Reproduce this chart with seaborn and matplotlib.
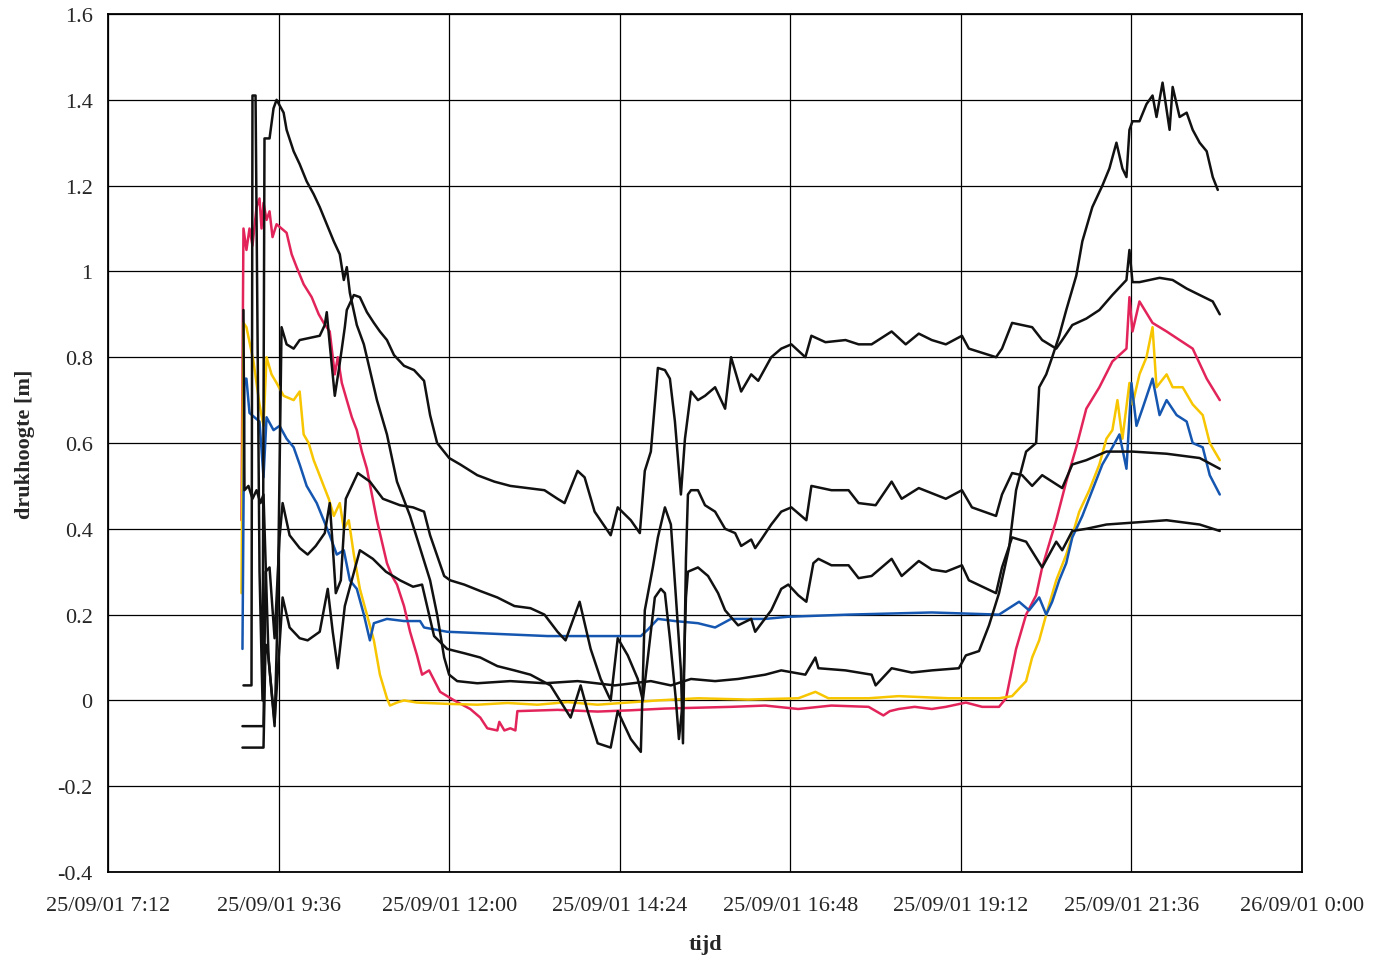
import pandas as pd
import numpy as np
import matplotlib
matplotlib.use('Agg')
import matplotlib.pyplot as plt
import seaborn as sns

# tijd in decimale uren op 25/09/01, drukhoogte in m
red_t = [9.078, 9.106, 9.148, 9.191, 9.233, 9.29, 9.332, 9.36, 9.388, 9.431, 9.473, 9.515, 9.572, 9.642,
         9.713, 9.784, 9.854, 9.953, 10.066, 10.165, 10.235, 10.32, 10.391, 10.433, 10.49, 10.56, 10.631,
         10.701, 10.772, 10.843, 10.913, 10.984, 11.054, 11.125, 11.196, 11.266, 11.365, 11.45, 11.548,
         11.619, 11.718, 11.873, 12.071, 12.297, 12.438, 12.537, 12.678, 12.706, 12.777, 12.861, 12.932,
         12.96, 13.525, 14.09, 14.556, 15.036, 15.967, 16.447, 16.913, 17.379, 17.902, 18.11, 18.2, 18.325,
         18.55, 18.791, 18.989, 19.271, 19.5, 19.737, 19.836, 19.977, 20.118, 20.259, 20.344, 20.542, 20.683,
         20.824, 20.965, 21.149, 21.332, 21.53, 21.572, 21.615, 21.713, 21.897, 22.095, 22.278, 22.462,
         22.659, 22.843]
red_v = [0.42, 1.10, 1.05, 1.10, 1.06, 1.15, 1.17, 1.10, 1.16, 1.12, 1.14, 1.08, 1.11, 1.10,
         1.09, 1.04, 1.01, 0.97, 0.94, 0.90, 0.88, 0.86, 0.76, 0.80, 0.74, 0.70, 0.66,
         0.63, 0.58, 0.54, 0.48, 0.42, 0.37, 0.32, 0.29, 0.27, 0.22, 0.16, 0.105,
         0.06, 0.07, 0.02, 0.0, -0.02, -0.04, -0.065, -0.07, -0.05, -0.07, -0.065, -0.07,
         -0.025, -0.022, -0.026, -0.023, -0.019, -0.015, -0.012, -0.02, -0.012, -0.015, -0.035, -0.025, -0.02,
         -0.015, -0.02, -0.015, -0.005, -0.015, -0.015, 0.005, 0.12, 0.2, 0.245, 0.31, 0.42, 0.51,
         0.59, 0.68, 0.73, 0.79, 0.82, 0.94, 0.86, 0.93, 0.88, 0.86, 0.84, 0.82,
         0.75, 0.70]

yellow_t = [9.078, 9.106, 9.148, 9.247, 9.332, 9.388, 9.431, 9.501, 9.572, 9.671, 9.812, 9.897, 9.953,
            10.023, 10.094, 10.165, 10.235, 10.306, 10.377, 10.461, 10.518, 10.588, 10.659, 10.744, 10.843,
            10.941, 11.026, 11.125, 11.167, 11.266, 11.365, 11.548, 11.972, 12.396, 12.819, 13.243, 13.666,
            14.09, 14.513, 14.937, 15.501, 16.207, 16.913, 17.153, 17.337, 17.902, 18.325, 19.031, 19.737,
            19.921, 20.118, 20.203, 20.302, 20.401, 20.542, 20.683, 20.768, 20.866, 21.007, 21.149, 21.248,
            21.332, 21.403, 21.473, 21.572, 21.615, 21.713, 21.812, 21.897, 21.953, 22.095, 22.18, 22.321,
            22.462, 22.603, 22.702, 22.843]
yellow_v = [0.25, 0.88, 0.87, 0.79, 0.69, 0.64, 0.80, 0.76, 0.74, 0.71, 0.70, 0.72, 0.62,
            0.60, 0.56, 0.53, 0.50, 0.47, 0.43, 0.46, 0.40, 0.42, 0.34, 0.26, 0.20,
            0.14, 0.06, 0.005, -0.012, -0.005, 0.0, -0.005, -0.008, -0.01, -0.006, -0.01, -0.004,
            -0.01, -0.005, 0.0, 0.005, 0.002, 0.005, 0.02, 0.005, 0.005, 0.01, 0.005, 0.005,
            0.01, 0.045, 0.10, 0.14, 0.20, 0.28, 0.34, 0.385, 0.44, 0.49, 0.55, 0.61,
            0.63, 0.70, 0.61, 0.74, 0.69, 0.76, 0.80, 0.87, 0.73, 0.76, 0.73, 0.73,
            0.69, 0.665, 0.60, 0.56]

blue_t = [9.092, 9.12, 9.148, 9.191, 9.261, 9.332, 9.388, 9.431, 9.529, 9.614, 9.713, 9.812, 9.897,
          9.995, 10.137, 10.235, 10.32, 10.419, 10.518, 10.603, 10.701, 10.8, 10.885, 10.941, 11.125,
          11.365, 11.591, 11.647, 11.972, 12.678, 13.384, 14.09, 14.697, 14.796, 14.937, 15.177, 15.501,
          15.742, 15.967, 16.447, 16.772, 17.62, 18.791, 19.737, 20.019, 20.16, 20.302, 20.401, 20.485,
          20.584, 20.683, 20.768, 20.909, 21.05, 21.191, 21.332, 21.431, 21.53, 21.6, 21.671, 21.755,
          21.897, 21.996, 22.095, 22.236, 22.377, 22.462, 22.603, 22.702, 22.843]
blue_v = [0.12, 0.75, 0.75, 0.67, 0.66, 0.65, 0.52, 0.66, 0.63, 0.64, 0.61, 0.59, 0.55,
          0.50, 0.46, 0.42, 0.385, 0.34, 0.35, 0.28, 0.26, 0.20, 0.14, 0.18, 0.19,
          0.185, 0.185, 0.17, 0.16, 0.155, 0.15, 0.15, 0.15, 0.165, 0.19, 0.185, 0.18,
          0.17, 0.19, 0.19, 0.195, 0.20, 0.205, 0.20, 0.23, 0.21, 0.24, 0.20, 0.23,
          0.28, 0.32, 0.38, 0.43, 0.49, 0.55, 0.59, 0.62, 0.54, 0.74, 0.64, 0.68,
          0.75, 0.665, 0.70, 0.665, 0.65, 0.60, 0.59, 0.525, 0.48]

k1_t = [9.106, 9.12, 9.176, 9.233, 9.29, 9.346, 9.388, 9.459, 9.544, 9.586, 9.642, 9.713, 9.812, 9.897,
        10.038, 10.179, 10.25, 10.278, 10.32, 10.391, 10.447, 10.49, 10.532, 10.56, 10.659, 10.744, 10.843,
        10.941, 11.026, 11.125, 11.224, 11.365, 11.506, 11.647, 11.732, 11.831, 12.0, 12.156, 12.396,
        12.636, 12.861, 13.101, 13.341, 13.525, 13.624, 13.807, 13.906, 14.047, 14.273, 14.372, 14.556,
        14.683, 14.753, 14.838, 14.937, 15.036, 15.106, 15.177, 15.261, 15.318, 15.403, 15.501, 15.6,
        15.742, 15.883, 15.967, 16.109, 16.25, 16.349, 16.532, 16.673, 16.815, 17.012, 17.097, 17.295,
        17.577, 17.761, 17.944, 18.226, 18.424, 18.608, 18.791, 18.989, 19.215, 19.313, 19.695, 19.779,
        19.921, 20.203, 20.344, 20.542, 20.626, 20.768, 20.965, 21.149, 21.332, 21.53, 21.572, 21.615,
        21.713, 21.996, 22.18, 22.377, 22.56, 22.744, 22.843]
k1_v = [0.91, 0.49, 0.50, 0.47, 0.49, 0.46, 0.48, 0.10, -0.06, 0.20, 0.87, 0.83, 0.82, 0.84,
        0.845, 0.85, 0.875, 0.905, 0.83, 0.71, 0.77, 0.82, 0.87, 0.91, 0.945, 0.94, 0.905,
        0.88, 0.86, 0.84, 0.805, 0.78, 0.77, 0.745, 0.665, 0.60, 0.565, 0.55, 0.525,
        0.51, 0.50, 0.495, 0.49, 0.47, 0.46, 0.535, 0.52, 0.44, 0.385, 0.45, 0.42,
        0.39, 0.535, 0.58, 0.775, 0.77, 0.75, 0.65, 0.48, 0.61, 0.72, 0.70, 0.71,
        0.73, 0.68, 0.80, 0.72, 0.76, 0.745, 0.80, 0.82, 0.83, 0.80, 0.85, 0.835,
        0.84, 0.83, 0.83, 0.86, 0.83, 0.855, 0.84, 0.83, 0.85, 0.82, 0.80, 0.82,
        0.88, 0.87, 0.84, 0.82, 0.84, 0.875, 0.89, 0.91, 0.945, 0.98, 1.05, 0.975,
        0.975, 0.985, 0.98, 0.96, 0.945, 0.93, 0.90]

k2_t = [9.092, 9.388, 9.417, 9.445, 9.544, 9.614, 9.657, 9.755, 9.897, 10.009, 10.179, 10.292, 10.362,
        10.433, 10.532, 10.744, 10.927, 11.111, 11.308, 11.492, 11.619, 11.788, 11.972, 12.212, 12.438,
        12.678, 12.918, 13.144, 13.426, 13.709, 13.85, 13.949, 14.09, 14.273, 14.372, 14.471, 14.556,
        14.697, 14.753, 14.866, 14.937, 15.036, 15.12, 15.191, 15.261, 15.29, 15.332, 15.36, 15.403,
        15.501, 15.6, 15.742, 15.883, 16.024, 16.109, 16.25, 16.306, 16.391, 16.532, 16.673, 16.815,
        17.026, 17.097, 17.379, 17.62, 17.761, 18.001, 18.226, 18.367, 18.608, 18.989, 19.215, 19.356,
        19.695, 19.779, 19.921, 20.062, 20.203, 20.344, 20.626, 20.768, 20.965, 21.248, 21.615, 22.095,
        22.56, 22.843]
k2_v = [-0.11, -0.11, 0.13, 0.12, -0.05, 0.13, 0.24, 0.17, 0.145, 0.14, 0.16, 0.26, 0.16,
        0.075, 0.22, 0.35, 0.33, 0.30, 0.28, 0.265, 0.27, 0.15, 0.12, 0.11, 0.10,
        0.08, 0.07, 0.06, 0.035, -0.04, 0.035, -0.025, -0.10, -0.11, -0.025, -0.06, -0.09,
        -0.12, 0.21, 0.31, 0.38, 0.45, 0.41, 0.24, 0.07, -0.10, 0.33, 0.48, 0.49,
        0.49, 0.455, 0.44, 0.40, 0.39, 0.36, 0.375, 0.355, 0.375, 0.41, 0.44, 0.45,
        0.42, 0.50, 0.49, 0.49, 0.46, 0.455, 0.51, 0.47, 0.495, 0.47, 0.49, 0.45,
        0.43, 0.48, 0.53, 0.525, 0.50, 0.525, 0.495, 0.55, 0.56, 0.58, 0.58, 0.575,
        0.565, 0.54]

k3_t = [9.092, 9.388, 9.417, 9.473, 9.544, 9.614, 9.657, 9.755, 9.897, 10.009, 10.123, 10.25, 10.32,
        10.362, 10.405, 10.476, 10.546, 10.715, 10.885, 11.068, 11.308, 11.492, 11.647, 11.732, 11.93,
        12.014, 12.212, 12.438, 12.678, 12.918, 13.144, 13.341, 13.525, 13.638, 13.836, 13.991, 14.132,
        14.273, 14.372, 14.513, 14.654, 14.725, 14.796, 14.894, 14.979, 15.036, 15.106, 15.191, 15.233,
        15.29, 15.332, 15.36, 15.501, 15.643, 15.784, 15.883, 16.066, 16.25, 16.306, 16.532, 16.673,
        16.772, 16.913, 17.026, 17.125, 17.196, 17.379, 17.62, 17.761, 17.944, 18.226, 18.367, 18.608,
        18.791, 18.989, 19.215, 19.313, 19.695, 19.779, 19.921, 20.118, 20.344, 20.542, 20.626, 20.768,
        20.965, 21.248, 22.095, 22.56, 22.843]
k3_v = [-0.06, -0.06, 0.30, 0.31, 0.145, 0.38, 0.46, 0.385, 0.355, 0.34, 0.36, 0.39, 0.46,
        0.36, 0.25, 0.28, 0.47, 0.53, 0.51, 0.47, 0.455, 0.45, 0.44, 0.385, 0.29,
        0.28, 0.27, 0.255, 0.24, 0.22, 0.215, 0.20, 0.16, 0.14, 0.23, 0.12, 0.05,
        0.0, 0.145, 0.105, 0.05, 0.0, 0.10, 0.24, 0.26, 0.25, 0.145, 0.0, -0.09,
        0.0, 0.24, 0.30, 0.31, 0.29, 0.25, 0.21, 0.175, 0.19, 0.16, 0.21, 0.26,
        0.27, 0.245, 0.23, 0.32, 0.33, 0.315, 0.315, 0.285, 0.29, 0.33, 0.29, 0.325,
        0.305, 0.30, 0.315, 0.28, 0.25, 0.31, 0.38, 0.37, 0.31, 0.37, 0.35, 0.395,
        0.40, 0.41, 0.42, 0.41, 0.395]

k4_t = [9.106, 9.219, 9.233, 9.276, 9.332, 9.374, 9.402, 9.473, 9.529, 9.572, 9.671, 9.713, 9.812,
        9.897, 9.995, 10.094, 10.179, 10.278, 10.377, 10.461, 10.518, 10.56, 10.603, 10.701, 10.8,
        10.885, 10.984, 11.125, 11.266, 11.45, 11.591, 11.732, 11.831, 11.93, 12.0, 12.113, 12.396,
        12.861, 13.341, 13.807, 14.33, 14.838, 15.12, 15.403, 15.742, 16.066, 16.447, 16.673, 17.012,
        17.153, 17.196, 17.577, 17.944, 18.001, 18.142, 18.226, 18.509, 18.791, 19.172, 19.271, 19.455,
        19.596, 19.737, 19.878, 19.977, 20.118, 20.259, 20.302, 20.401, 20.485, 20.584, 20.683, 20.824,
        20.909, 21.05, 21.191, 21.29, 21.389, 21.473, 21.53, 21.572, 21.615, 21.713, 21.812, 21.897,
        21.953, 22.038, 22.137, 22.18, 22.278, 22.377, 22.462, 22.56, 22.659, 22.744, 22.815]
k4_v = [0.035, 0.035, 1.41, 1.41, 0.30, 0.0, 1.31, 1.31, 1.38, 1.40, 1.37, 1.33, 1.28,
        1.25, 1.21, 1.18, 1.15, 1.11, 1.07, 1.04, 0.98, 1.01, 0.95, 0.875, 0.83,
        0.77, 0.70, 0.62, 0.51, 0.43, 0.355, 0.28, 0.20, 0.10, 0.06, 0.045, 0.04,
        0.045, 0.04, 0.045, 0.035, 0.045, 0.035, 0.05, 0.045, 0.05, 0.06, 0.07, 0.06,
        0.10, 0.075, 0.07, 0.06, 0.035, 0.06, 0.075, 0.065, 0.07, 0.075, 0.105, 0.115,
        0.175, 0.25, 0.355, 0.49, 0.58, 0.60, 0.73, 0.76, 0.80, 0.85, 0.91, 0.99,
        1.07, 1.15, 1.20, 1.24, 1.30, 1.24, 1.22, 1.33, 1.35, 1.35, 1.39, 1.41,
        1.36, 1.44, 1.33, 1.43, 1.36, 1.37, 1.33, 1.30, 1.28, 1.22, 1.19]

tick_labels = ['25/09/01 7:12', '25/09/01 9:36', '25/09/01 12:00', '25/09/01 14:24',
               '25/09/01 16:48', '25/09/01 19:12', '25/09/01 21:36', '26/09/01 0:00']
y_ticks = [-0.4, -0.2, 0, 0.2, 0.4, 0.6, 0.8, 1, 1.2, 1.4, 1.6]
y_labels = ['-0.4', '-0.2', '0', '0.2', '0.4', '0.6', '0.8', '1', '1.2', '1.4', '1.6']

day = pd.Timestamp('2001-09-25')


def to_time(hours):
    return day + pd.to_timedelta(np.array(hours), unit='h')


sns.set_style('white')
plt.rcParams['font.family'] = ['Liberation Serif', 'DejaVu Serif']

fig, ax = plt.subplots(figsize=(13.74, 9.62), dpi=100)
fig.subplots_adjust(left=0.0786, right=0.9476, top=0.9844, bottom=0.0925)

series = [(red_t, red_v, '#e2245a'), (yellow_t, yellow_v, '#f7c600'), (blue_t, blue_v, '#1556b0'),
          (k1_t, k1_v, '#111111'), (k2_t, k2_v, '#111111'), (k3_t, k3_v, '#111111'),
          (k4_t, k4_v, '#111111')]
for t, v, c in series:
    sns.lineplot(x=to_time(t), y=v, color=c, linewidth=1.8, estimator=None, sort=False, ax=ax)

ticks = pd.date_range(day + pd.Timedelta(hours=7.2), periods=8, freq='144min')
ax.set_xlim(ticks[0], ticks[-1])
ax.set_xticks(ticks)
ax.set_xticklabels(tick_labels, fontsize=16)
ax.set_ylim(-0.4, 1.6)
ax.set_yticks(y_ticks)
ax.set_yticklabels(y_labels, fontsize=16)

ax.grid(True, color='black', linewidth=0.9)
ax.set_axisbelow(True)
for s in ax.spines.values():
    s.set_color('black')
    s.set_linewidth(1.3)
ax.tick_params(axis='x', length=0, pad=17)
ax.tick_params(axis='y', length=5, width=1, direction='out', pad=6, color='black')

ax.set_xlabel('tijd', fontsize=16, weight='bold', labelpad=14)
ax.set_ylabel('drukhoogte [m]', fontsize=16, weight='bold', labelpad=16)

plt.savefig('out.png', dpi=100)
